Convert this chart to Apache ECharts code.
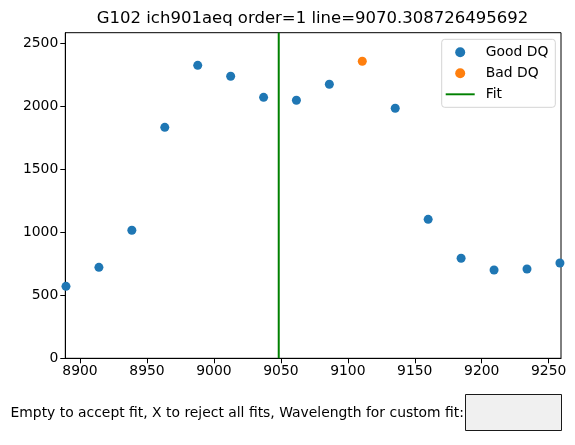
<!DOCTYPE html>
<html>
<head>
<meta charset="utf-8">
<script src="https://cdn.jsdelivr.net/npm/echarts@6/dist/echarts.min.js"></script>
<style>
html,body{margin:0;padding:0;background:#fff;}
#chart{width:575px;height:445px;}
</style>
</head>
<body>
<div id="chart"></div>
<script>
const titleText = 'G102 ich901aeq order=1 line=9070.308726495692';
const goodX = [8889.5, 8914.1, 8938.7, 8963.3, 8987.9, 9012.5, 9037.1, 9061.6, 9086.2, 9135.4, 9160.0, 9184.6, 9209.2, 9233.8, 9258.4];
const goodY = [571, 722, 1016, 1833, 2325, 2238, 2071, 2048, 2175, 1984, 1103, 794, 701, 709, 756];
const badX = [9110.8];
const badY = [2357];
const fitX = 9048.4;
const xTicks = [8900, 8950, 9000, 9050, 9100, 9150, 9200, 9250];
const yTicks = [0, 500, 1000, 1500, 2000, 2500];
const xRange = [8889, 9259.2];
const yRange = [0, 2584];
const promptText = 'Empty to accept fit, X to reject all fits, Wavelength for custom fit:';

const FONT = 'DejaVu Sans';
const chart = echarts.init(document.getElementById('chart'), null, {renderer: 'canvas'});

const axisCommon = {
  axisLine: {show: true, onZero: false, lineStyle: {color: '#000', width: 1}},
  axisTick: {show: true, inside: false, length: 5, lineStyle: {color: '#000', width: 1}},
  splitLine: {show: false},
  axisLabel: {color: '#000', fontFamily: FONT, fontSize: 13.9, formatter: v => String(v)}
};

const option = {
  animation: false,
  backgroundColor: '#fff',
  grid: {left: 65.3, right: 14, top: 32.7, bottom: 86.7, show: true, borderColor: '#000', borderWidth: 1, containLabel: false},
  xAxis: Object.assign({}, axisCommon, {
    type: 'value', min: xRange[0], max: xRange[1],
    axisTick: Object.assign({}, axisCommon.axisTick, {customValues: xTicks}),
    axisLabel: Object.assign({}, axisCommon.axisLabel, {customValues: xTicks, margin: 6})
  }),
  yAxis: Object.assign({}, axisCommon, {
    type: 'value', min: yRange[0], max: yRange[1],
    axisTick: Object.assign({}, axisCommon.axisTick, {customValues: yTicks}),
    axisLabel: Object.assign({}, axisCommon.axisLabel, {customValues: yTicks, margin: 7})
  }),
  legend: {
    orient: 'vertical',
    left: 441.7, top: 39.3,
    padding: [6, 7, 6, 4],
    itemGap: 7,
    itemWidth: 29, itemHeight: 10,
    backgroundColor: 'rgba(255,255,255,0.8)',
    borderColor: '#d4d4d4', borderWidth: 1, borderRadius: 3,
    textStyle: {fontFamily: FONT, fontSize: 13.9, color: '#000', padding: [0, 0, 0, 6]},
    data: [
      {name: 'Good DQ', icon: 'circle'},
      {name: 'Bad DQ', icon: 'circle'},
      {name: 'Fit', icon: 'path://M0,0 L30,0 L30,2 L0,2 Z'}
    ]
  },
  series: [
    {
      name: 'Good DQ', type: 'scatter', symbol: 'circle', symbolSize: 9, clip: true,
      itemStyle: {color: '#1f77b4', opacity: 1},
      data: goodX.map((x, i) => [x, goodY[i]])
    },
    {
      name: 'Bad DQ', type: 'scatter', symbol: 'circle', symbolSize: 9, clip: true,
      itemStyle: {color: '#ff7f0e', opacity: 1},
      data: badX.map((x, i) => [x, badY[i]])
    },
    {
      name: 'Fit', type: 'line', symbol: 'none', clip: true,
      lineStyle: {color: '#008000', width: 2},
      itemStyle: {color: '#008000'},
      data: [[fitX, yRange[0]], [fitX, yRange[1]]]
    }
  ],
  graphic: [
    {
      type: 'text', x: 312.5, y: 19,
      style: {text: titleText, fontFamily: FONT, fontSize: 16.5, fill: '#000', textAlign: 'center', textVerticalAlign: 'middle'}
    },
    {
      type: 'text', left: 10.5, top: 406,
      style: {text: promptText, fontFamily: FONT, fontSize: 13.9, fill: '#000'}
    },
    {
      type: 'rect', shape: {x: 465.5, y: 394.5, width: 96, height: 36},
      style: {fill: '#f0f0f0', stroke: '#1a1a1a', lineWidth: 1}
    }
  ]
};
chart.setOption(option);
</script>
</body>
</html>
